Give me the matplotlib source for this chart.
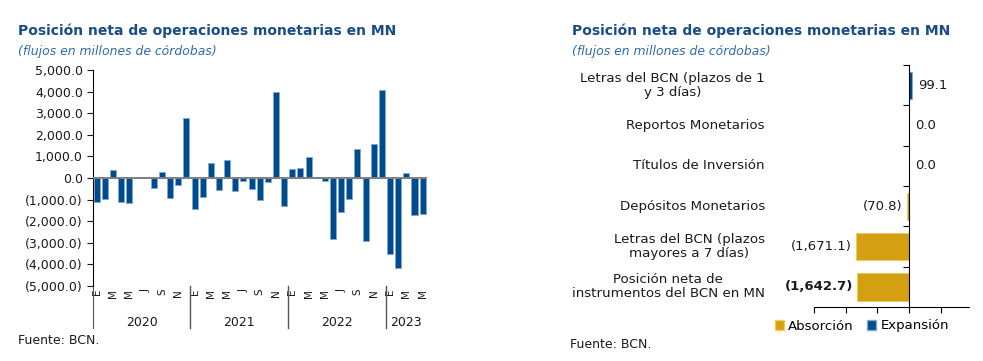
#!/usr/bin/env python3
"""Posición neta de operaciones monetarias en MN — dos paneles (serie mensual y último mes)."""

import matplotlib

matplotlib.use("Agg")
import matplotlib.pyplot as plt
from matplotlib.patches import Patch
from matplotlib.ticker import FuncFormatter, FixedLocator

plt.rcParams["font.family"] = ["DejaVu Sans"]

# --------------------------------------------------------------------------- #
# colores
# --------------------------------------------------------------------------- #
COLOR_TITLE = "#1A4C86"
COLOR_SUB = "#2F6BA8"
COLOR_BLUE = "#004B8D"
COLOR_BLUE_EDGE = "#7FA8D4"
COLOR_GOLD = "#D4A012"
COLOR_GOLD_EDGE = "#F2CC55"
COLOR_TEXT = "#1A1A1A"

# --------------------------------------------------------------------------- #
# datos: panel izquierdo (flujos mensuales, ene-2020 a may-2023)
# --------------------------------------------------------------------------- #
years = ["2020", "2021", "2022", "2023"]
months_per_year = [12, 12, 12, 5]
month_labels = ["E", "M", "M", "J", "S", "N"] * 3 + ["E", "M", "M"]
flows = [
    -1100, -960, 350, -1100, -1150, 60, 60, -450, 300, -910, -310, 2760,
    -1430, -880, 710, -540, 820, -600, -120, -490, -1000, -170, 3970, -1280,
    400, 450, 990, 60, -120, -2840, -1570, -960, 1360, -2920, 1600, 4100,
    -3500, -4170, 250, -1700, -1650,
]

# --------------------------------------------------------------------------- #
# datos: panel derecho (de arriba hacia abajo)
# --------------------------------------------------------------------------- #
instruments = [
    "Letras del BCN (plazos de 1\ny 3 días)",
    "Reportos Monetarios",
    "Títulos de Inversión",
    "Depósitos Monetarios",
    "Letras del BCN (plazos\nmayores a 7 días)",
    "Posición neta de\ninstrumentos del BCN en MN",
]
instrument_values = [99.1, 0.0, 0.0, -70.8, -1671.1, -1642.7]
value_labels = ["99.1", "0.0", "0.0", "(70.8)", "(1,671.1)", "(1,642.7)"]

TITLE = "Posición neta de operaciones monetarias en MN"
SUBTITLE = "(flujos en millones de córdobas)"


def fmt_paren(v, _pos=None):
    s = f"{abs(v):,.1f}"
    return f"({s})" if v < 0 else s


fig = plt.figure(figsize=(9.83, 3.61), dpi=100)

# --------------------------------------------------------------------------- #
# panel izquierdo
# --------------------------------------------------------------------------- #
ax1 = fig.add_axes([0.0943, 0.2078, 0.3398, 0.598])
x = list(range(len(flows)))
ax1.bar(x, flows, width=0.74, color=COLOR_BLUE, edgecolor=COLOR_BLUE_EDGE, linewidth=0.6, zorder=2)
ax1.axhline(0, color="#7F7F7F", lw=1.4, zorder=3)
ax1.set_xlim(-0.5, len(flows) - 0.5)
ax1.set_ylim(-5000, 5000)
ax1.yaxis.set_major_locator(FixedLocator(range(-5000, 5001, 1000)))
ax1.yaxis.set_major_formatter(FuncFormatter(fmt_paren))
ax1.tick_params(axis="y", direction="out", length=4, width=0.8, labelsize=9, colors=COLOR_TEXT, pad=3)
ax1.set_xticks(x[::2])
ax1.set_xticklabels(month_labels, rotation=90, fontsize=7.5, color=COLOR_TEXT)
ax1.tick_params(axis="x", length=0, pad=2)
for side in ("top", "right", "bottom"):
    ax1.spines[side].set_visible(False)
ax1.spines["left"].set_linewidth(0.8)

# separadores de año y etiquetas
trans = ax1.get_xaxis_transform()
start = 0
for yr, n in zip(years, months_per_year):
    ax1.plot([start - 0.5, start - 0.5], [0.0, -0.194], transform=trans, color="#555555",
             lw=1.0 if start else 0.8, clip_on=False)
    ax1.text(start - 0.5 + n / 2, -0.167, yr, transform=trans, ha="center", va="center",
             fontsize=9, color=COLOR_TEXT)
    start += n

fig.text(18 / 983, 1 - 31 / 361, TITLE, fontsize=10, fontweight="bold", color=COLOR_TITLE, va="center")
fig.text(18 / 983, 1 - 51 / 361, SUBTITLE, fontsize=8.9, style="italic", color=COLOR_SUB, va="center")
fig.text(18 / 983, 1 - 341 / 361, "Fuente: BCN.", fontsize=9, color=COLOR_TEXT, va="center")

# --------------------------------------------------------------------------- #
# panel derecho
# --------------------------------------------------------------------------- #
ax2 = fig.add_axes([0.828, 0.1496, 0.158, 0.670])
n = len(instruments)
ypos = list(range(n - 1, -1, -1))
colors = [COLOR_BLUE if v > 0 else COLOR_GOLD for v in instrument_values]
edges = [COLOR_BLUE_EDGE if v > 0 else COLOR_GOLD_EDGE for v in instrument_values]
ax2.barh(ypos, instrument_values, height=0.68, color=colors, edgecolor=edges, linewidth=0.6, zorder=2)
ax2.set_ylim(-0.5, n - 0.5)
ax2.set_xlim(-3000, 1900)
ax2.spines["left"].set_position(("data", 0))
for side in ("top", "right"):
    ax2.spines[side].set_visible(False)
ax2.spines["left"].set_linewidth(0.8)
ax2.spines["bottom"].set_linewidth(0.8)
ax2.set_yticks([])
ax2.yaxis.set_minor_locator(FixedLocator([k + 0.5 for k in range(n)]))
ax2.tick_params(axis="y", which="minor", direction="out", length=4, width=0.8)
ax2.xaxis.set_major_locator(FixedLocator(range(-3000, 1001, 1000)))
ax2.tick_params(axis="x", direction="out", length=4, width=0.8, labelbottom=False)

ytr = ax2.get_yaxis_transform()
for yp, name in zip(ypos, instruments):
    ax2.text(-0.316, yp, name, transform=ytr, ha="right", va="center", multialignment="center",
             fontsize=9.6, color=COLOR_TEXT, linespacing=1.1)

for yp, v, lab in zip(ypos, instrument_values, value_labels):
    bold = lab == value_labels[-1]
    if v >= 0:
        ax2.annotate(lab, (v, yp), xytext=(6, 0), textcoords="offset pixels", ha="left", va="center",
                     fontsize=9.5, color=COLOR_TEXT)
    else:
        ax2.annotate(lab, (v, yp), xytext=(-4, 0), textcoords="offset pixels", ha="right", va="center",
                     fontsize=9.5, color=COLOR_TEXT, fontweight="bold" if bold else "normal")

handles = [Patch(facecolor=COLOR_GOLD, edgecolor=COLOR_GOLD_EDGE, label="Absorción"),
           Patch(facecolor=COLOR_BLUE, edgecolor=COLOR_BLUE_EDGE, label="Expansión")]
fig.legend(handles=handles, loc="center", bbox_to_anchor=(862 / 983, 1 - 326 / 361), ncol=2,
           frameon=False, fontsize=9.5, handlelength=0.7, handleheight=0.7, handletextpad=0.3,
           columnspacing=1.0, borderpad=0)

fig.text(572 / 983, 1 - 31 / 361, TITLE, fontsize=10, fontweight="bold", color=COLOR_TITLE, va="center")
fig.text(572 / 983, 1 - 51 / 361, SUBTITLE, fontsize=8.9, style="italic", color=COLOR_SUB, va="center")
fig.text(570 / 983, 1 - 345 / 361, "Fuente: BCN.", fontsize=9, color=COLOR_TEXT, va="center")

fig.savefig("out.png", dpi=100)
